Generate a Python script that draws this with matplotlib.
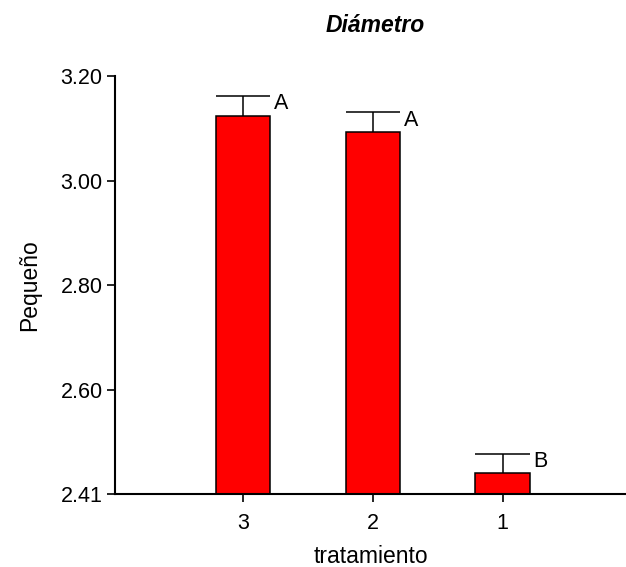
import matplotlib
matplotlib.use("Agg")
import matplotlib.pyplot as plt
import numpy as np

plt.rcParams['font.family'] = ['Liberation Sans', 'DejaVu Sans']

categories = ['3', '2', '1']
means = [3.124, 3.093, 2.442]
errors = [0.038, 0.037, 0.036]
letters = ['A', 'A', 'B']
ytick_values = [2.402, 2.60, 2.80, 3.00, 3.20]
ytick_labels = ['2.41', '2.60', '2.80', '3.00', '3.20']

fig = plt.figure(figsize=(6.26, 5.67), dpi=100)
ax = fig.add_axes([115/626, 73/567, 1 - 115/626, (494 - 75.7)/567])

x = np.arange(len(categories))
width = 0.42
ax.bar(x, np.array(means) - ytick_values[0], width, bottom=ytick_values[0],
       color='#ff0000', edgecolor='black', linewidth=1.1, zorder=2)
tops = np.array(means) + np.array(errors)
ax.vlines(x, means, tops, color='black', linewidth=1.1, zorder=3)
ax.hlines(tops, x - width/2, x + width/2, color='black', linewidth=1.1, zorder=3)
for xi, t, lab in zip(x, tops, letters):
    ax.annotate(lab, (xi + width/2, t), xytext=(2.5, 2), textcoords='offset points',
                ha='left', va='top', fontsize=15.5)

ax.set_xlim(-0.985, 2.95)
ax.set_ylim(ytick_values[0], 3.20)
ax.set_xticks(x)
ax.set_xticklabels(categories, fontsize=15.5)
ax.set_yticks(ytick_values)
ax.set_yticklabels(ytick_labels, fontsize=15.5)
ax.spines['top'].set_visible(False)
ax.spines['right'].set_visible(False)
ax.spines['left'].set_linewidth(1.5)
ax.spines['bottom'].set_linewidth(1.5)
ax.tick_params(axis='both', direction='out', length=6, width=1.2)
ax.tick_params(axis='y', pad=3)
ax.tick_params(axis='x', pad=7.5)

ax.set_xlabel('tratamiento', fontsize=16.5, labelpad=8)
ax.set_ylabel('Pequeño', fontsize=16.5, labelpad=14)
fig.text(375/626, 1 - 25/567, 'Diámetro', ha='center', va='center',
         fontsize=16.5, fontweight='bold', fontstyle='italic')

fig.savefig('out.png', dpi=100)
